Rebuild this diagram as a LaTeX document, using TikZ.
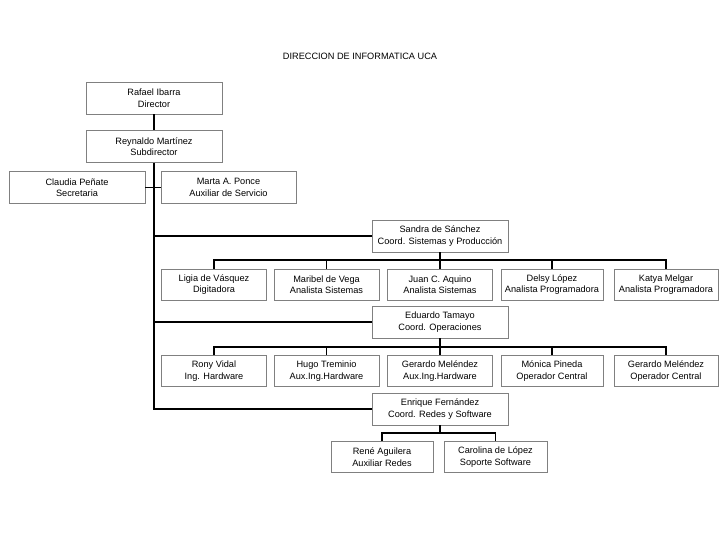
\documentclass[tikz,border=0pt]{standalone}
\usepackage{fontspec}
\setmainfont{Liberation Sans}
\begin{document}
\begin{tikzpicture}[x=1pt,y=-1pt,
  box/.style={draw=black!50, line width=0.8pt, fill=white, align=center, inner sep=0pt,
    font=\fontsize{9.2}{11.5}\selectfont},
  wide/.style={box, minimum width=136pt, minimum height=32pt},
  small/.style={box, minimum width=105pt, minimum height=31pt},
  conn/.style={draw=black, line width=1.3pt}]
\useasboundingbox (0,0) rectangle (720,540);
\node[font=\fontsize{9.2}{11}\selectfont] (title) at (360,56) {DIRECCION DE INFORMATICA UCA};
\node[wide] (rafael) at (154,98) {Rafael Ibarra\\Director};
\node[wide] (reynaldo) at (154,146.5) {Reynaldo Martínez\\Subdirector};
\node[wide] (claudia) at (77,187.5) {Claudia Peñate\\Secretaria};
\node[wide, minimum width=135pt] (marta) at (228.5,187.5) {Marta A. Ponce\\Auxiliar de Servicio};
\node[wide] (sandra) at (440,236) {Sandra de Sánchez\\Coord. Sistemas y Producción};
\node[small] (ligia) at (214,284.5) {Ligia de Vásquez\\Digitadora};
\node[small] (maribel) at (326.5,284.5) {Maribel de Vega\\Analista Sistemas};
\node[small] (juan) at (440,284.5) {Juan C. Aquino\\Analista Sistemas};
\node[small, minimum width=102pt] (delsy) at (552,284.5) {Delsy López\\Analista Programadora};
\node[small, minimum width=104pt] (katya) at (666,284.5) {Katya Melgar\\Analista Programadora};
\node[wide] (eduardo) at (440,322) {Eduardo Tamayo\\Coord. Operaciones};
\node[small] (rony) at (214,371) {Rony Vidal\\Ing. Hardware};
\node[small] (hugo) at (326.5,371) {Hugo Treminio\\Aux.Ing.Hardware};
\node[small] (gerardo) at (440,371) {Gerardo Meléndez\\Aux.Ing.Hardware};
\node[small, minimum width=102pt] (monica) at (552,371) {Mónica Pineda\\Operador Central};
\node[small, minimum width=104pt] (gerardo2) at (666,371) {Gerardo Meléndez\\Operador Central};
\node[wide] (enrique) at (440,409) {Enrique Fernández\\Coord. Redes y Software};
\node[small, minimum width=102pt] (rene) at (382,457) {René Aguilera\\Auxiliar Redes};
\node[small, minimum width=103pt] (carolina) at (495.5,457) {Carolina de López\\Soporte Software};
% connectors
\draw[conn] (rafael.south) -- (reynaldo.north);
\draw[conn] (reynaldo.south) |- (enrique.west);
\draw[conn] (claudia.east) -- (marta.west);
\draw[conn] (reynaldo.south) |- (sandra.west);
\draw[conn] (reynaldo.south) |- (eduardo.west);
\coordinate (b1) at (440,260);
\draw[conn] (sandra.south) -- (b1);
\draw[conn] (ligia.north) |- (b1) -| (katya.north);
\draw[conn] (maribel.north) -- (maribel.north |- b1);
\draw[conn] (juan.north) -- (b1);
\draw[conn] (delsy.north) -- (delsy.north |- b1);
\coordinate (b2) at (440,347);
\draw[conn] (eduardo.south) -- (b2);
\draw[conn] (rony.north) |- (b2) -| (gerardo2.north);
\draw[conn] (hugo.north) -- (hugo.north |- b2);
\draw[conn] (gerardo.north) -- (b2);
\draw[conn] (monica.north) -- (monica.north |- b2);
\coordinate (b3) at (440,433);
\draw[conn] (enrique.south) -- (b3);
\draw[conn] (rene.north) |- (b3) -| (carolina.north);
\end{tikzpicture}
\end{document}
